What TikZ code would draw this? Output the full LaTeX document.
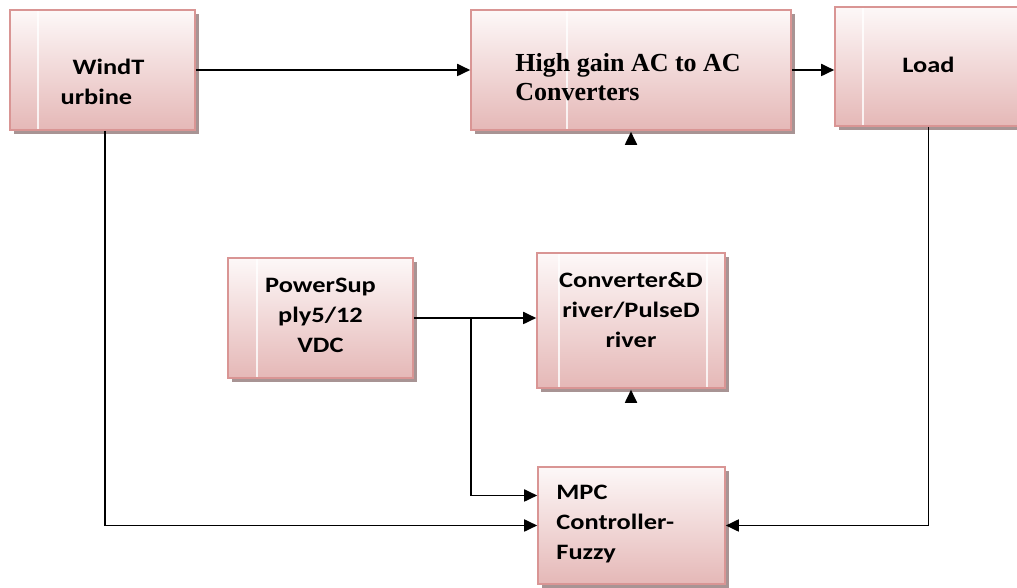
\documentclass[tikz,border=0pt]{standalone}
\usepackage{fontspec}
\newfontfamily\calfont[FakeStretch=1.2]{Carlito}
\newfontfamily\tnrfont{Liberation Serif}
\usetikzlibrary{arrows.meta,calc,shadows}
\definecolor{rosetop}{HTML}{FDF8F8}
\definecolor{rosebot}{HTML}{E5B8B7}
\definecolor{roseedge}{HTML}{D99594}
\definecolor{roseshade}{HTML}{A89494}
\tikzset{
  blk/.style={draw=roseedge,line width=1.6pt,top color=rosetop,bottom color=rosebot,
              drop shadow={shadow xshift=4pt,shadow yshift=-4pt,fill=roseshade,opacity=1},
              inner sep=0pt},
  pane/.style={path picture={\draw[white,line width=1.4pt,opacity=.8]
               ([xshift=#1]path picture bounding box.north west) --
               ([xshift=#1]path picture bounding box.south west);}},
  panes/.style 2 args={path picture={\draw[white,line width=1.4pt,opacity=.8]
               ([xshift=#1]path picture bounding box.north west) --
               ([xshift=#1]path picture bounding box.south west)
               ([xshift=-#2]path picture bounding box.north east) --
               ([xshift=-#2]path picture bounding box.south east);}},
  lbl/.style={font=\calfont\bfseries\fontsize{22}{30}\selectfont,inner sep=0pt,align=center},
  arr/.style={-{Triangle[length=13pt,width=12pt]},line width=1.8pt}
}
\begin{document}
\begin{tikzpicture}[x=1pt,y=1pt]
  \useasboundingbox (0,0) rectangle (1017,588);
  % blocks
  \node[blk,pane=28pt,minimum width=185pt,minimum height=120pt] (wind) at (102.5,518) {};
  \node[blk,pane=96pt,minimum width=320pt,minimum height=120pt] (hg) at (631,518) {};
  \node[blk,pane=28pt,minimum width=187pt,minimum height=119pt] (load) at (928.5,521.5) {};
  \node[blk,pane=29pt,minimum width=185pt,minimum height=120pt] (ps) at (320.5,270) {};
  \node[blk,panes={22pt}{18pt},minimum width=188pt,minimum height=135pt] (cd) at (631,267.5) {};
  \node[blk,minimum width=187pt,minimum height=117pt] (mpc) at (631.5,62.5) {};
  % texts
  \node[lbl,align=left] (windtxt) at ($(wind.center)+(0,-12)$) {\hspace*{12pt}WindT\\urbine};
  \node[lbl,font=\tnrfont\bfseries\fontsize{26}{29}\selectfont,align=left,anchor=west] (hgtxt)
       at ($(hg.west)+(45,-7.5)$) {High gain AC to AC\\Converters};
  \node[lbl] (loadtxt) at ($(load.center)+(0,1.5)$) {Load};
  \node[lbl] (pstxt) at ($(ps.center)+(0,3)$) {PowerSup\\ply5/12\\VDC};
  \node[lbl] (cdtxt) at ($(cd.center)+(0,10.5)$) {Converter\&D\\river/PulseD\\river};
  \node[lbl,align=left,anchor=west] (mpctxt) at ($(mpc.west)+(19,1)$) {MPC\\Controller-\\Fuzzy};
  % connectors
  \draw[arr] (wind) -- (hg);
  \draw[arr] (hg.east) -- (hg.east -| load.west);
  \draw[arr] ($(wind.south)+(2.5,0)$) |- (mpc.west);
  \draw[arr] (load.south) |- (mpc.east);
  \draw[arr] (ps.east) -- (ps.east -| cd.west);
  \coordinate (tap) at ($(ps.east)+(57,0)$);
  \draw[arr] (tap) |- ($(mpc.west)+(0,30)$);
  \coordinate (hgfoot) at ($(hg.south)+(0,-14)$);
  \coordinate (cdfoot) at ($(cd.south)+(0,-14)$);
  \draw[arr,shorten >=1pt] (hgfoot) -- (hg.south);
  \draw[arr,shorten >=1pt] (cdfoot) -- (cd.south);
\end{tikzpicture}
\end{document}
